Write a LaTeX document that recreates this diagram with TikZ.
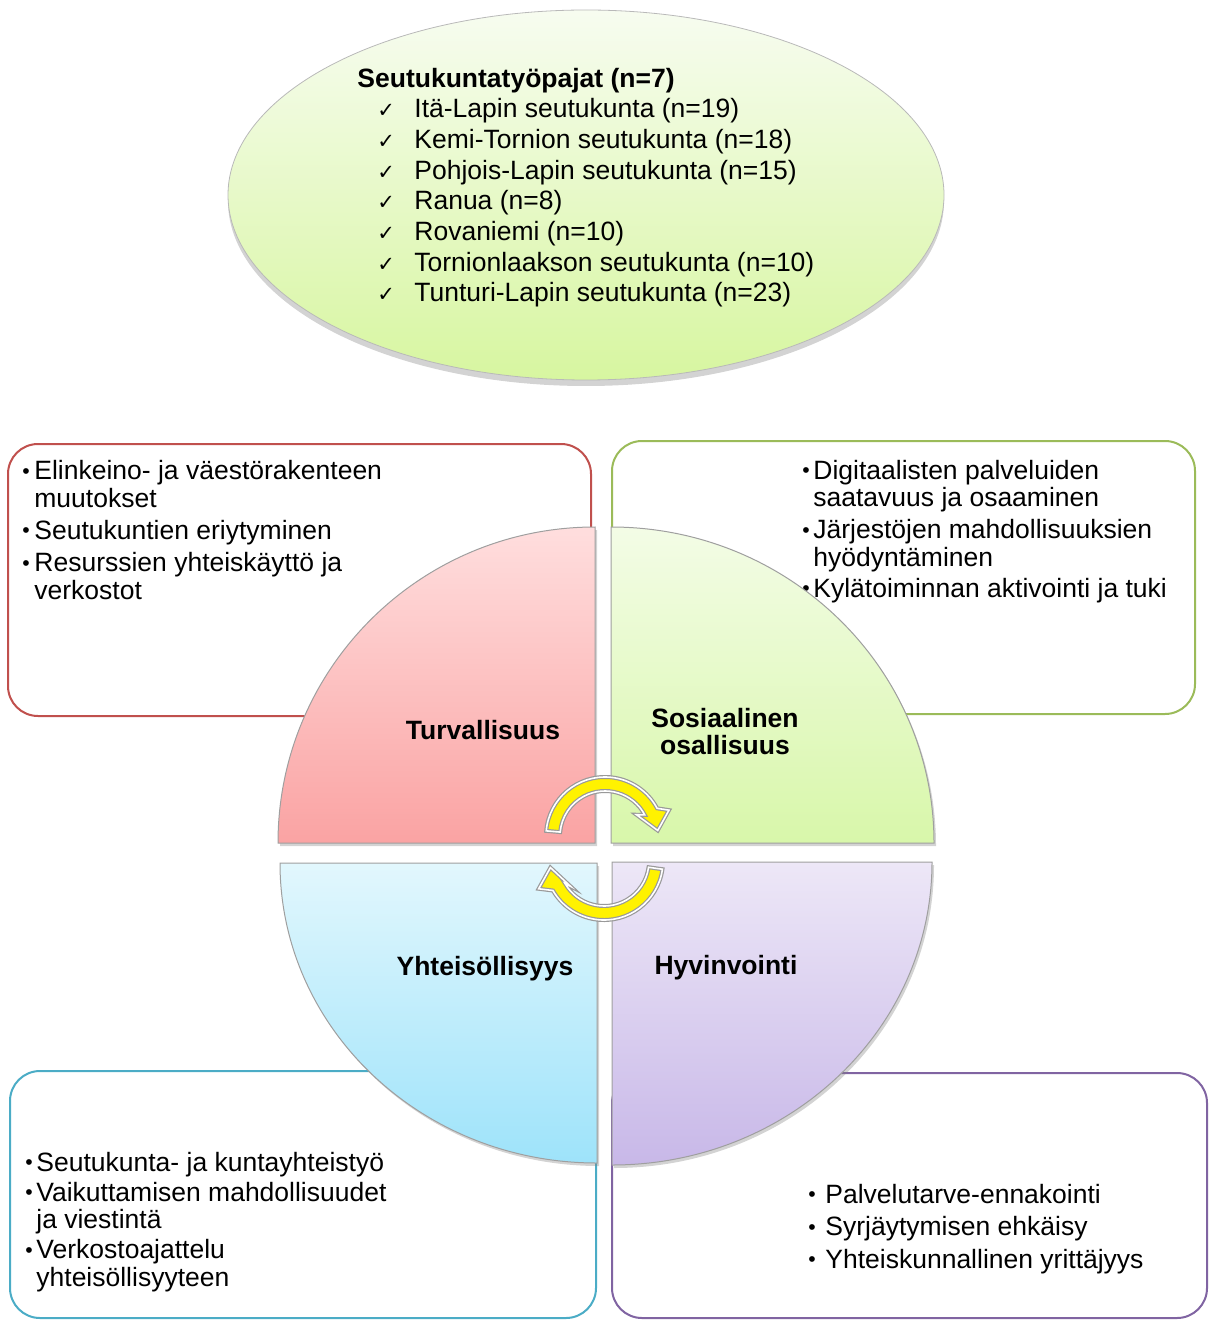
\documentclass[tikz,border=0pt]{standalone}
\usepackage{fontspec}
\setmainfont{Liberation Sans}
\newfontfamily\checkfont{DejaVu Sans}
\usetikzlibrary{shapes.geometric,shadows,calc}

\definecolor{redline}{RGB}{192,80,77}
\definecolor{greenline}{RGB}{155,187,89}
\definecolor{blueline}{RGB}{75,172,198}
\definecolor{purpleline}{RGB}{128,100,162}
\definecolor{ellipsetop}{RGB}{247,252,240}
\definecolor{ellipsebot}{RGB}{215,246,160}

\newcommand\bul[1]{\makebox[#1][l]{\raisebox{0.6pt}{\scalebox{0.8}{•}}}}
\newcommand\ck{\makebox[18.5pt][l]{\checkfont\fontsize{10.5}{10.5}\selectfont ✓}}

\begin{document}
\begin{tikzpicture}[x=0.5pt,y=-0.5pt,
   txt/.style={font=\fontsize{13.25}{13.75}\selectfont,inner sep=0pt,align=left,anchor=base west},
   lbl/.style={font=\bfseries\fontsize{13.25}{13.5}\selectfont,inner sep=0pt,align=center},
   themebox/.style={line width=1pt,rounded corners=15pt},
   quad/.style={draw=gray!75,line width=0.5pt,
     drop shadow={shadow xshift=1pt,shadow yshift=-1.5pt,opacity=0.35}},
   turnarrow/.style={fill=yellow,draw=gray!80,double=white,double distance=0.8pt,line width=0.6pt}]
  \useasboundingbox (0,0) rectangle (1209,1320);

  % workshops
  \node[ellipse,minimum width=358pt,minimum height=185pt,draw=gray!55,line width=0.4pt,
    top color=ellipsetop,bottom color=ellipsebot,
    drop shadow={shadow xshift=0pt,shadow yshift=-3pt,opacity=0.35}] (wsell) at (586,195) {};
  \node[txt,font=\fontsize{13.25}{15.35}\selectfont] (wstxt) at (357,302)
    {\textbf{Seutukuntatyöpajat (n=7)}\\
     \hspace*{10pt}\ck Itä-Lapin seutukunta (n=19)\\
     \hspace*{10pt}\ck Kemi-Tornion seutukunta (n=18)\\
     \hspace*{10pt}\ck Pohjois-Lapin seutukunta (n=15)\\
     \hspace*{10pt}\ck Ranua (n=8)\\
     \hspace*{10pt}\ck Rovaniemi (n=10)\\
     \hspace*{10pt}\ck Tornionlaakson seutukunta (n=10)\\
     \hspace*{10pt}\ck Tunturi-Lapin seutukunta (n=23)};

  % theme boxes
  \draw[themebox,draw=redline] (8,444) rectangle (591,716);
  \draw[themebox,draw=greenline] (612,441) rectangle (1195,714);
  \draw[themebox,draw=blueline] (10,1071) rectangle (596,1318);
  \draw[themebox,draw=purpleline] (612,1073) rectangle (1207,1318);

  \node[txt] (redtxt) at (22,599)
    {\bul{6pt}Elinkeino- ja väestörakenteen\\ \hspace*{6pt}muutokset\\[2.25pt]
     \bul{6pt}Seutukuntien eriytyminen\\[2.5pt]
     \bul{6pt}Resurssien yhteiskäyttö ja\\ \hspace*{6pt}verkostot};
  \node[txt] (greentxt) at (802,597)
    {\bul{5.5pt}Digitaalisten palveluiden\\ \hspace*{5.5pt}saatavuus ja osaaminen\\[2.25pt]
     \bul{5.5pt}Järjestöjen mahdollisuuksien\\ \hspace*{5.5pt}hyödyntäminen\\[1.75pt]
     \bul{5.5pt}Kylätoiminnan aktivointi ja tuki};
  \node[txt] (bluetxt) at (25,1286)
    {\bul{5.5pt}Seutukunta- ja kuntayhteistyö\\[1.25pt]
     \bul{5.5pt}Vaikuttamisen mahdollisuudet\\ \hspace*{5.5pt}ja viestintä\\[1.25pt]
     \bul{5.5pt}Verkostoajattelu\\ \hspace*{5.5pt}yhteisöllisyyteen};
  \node[txt,font=\fontsize{13.25}{16.25}\selectfont] (purpletxt) at (808,1268)
    {\bul{8.5pt}Palvelutarve-ennakointi\\
     \bul{8.5pt}Syrjäytymisen ehkäisy\\
     \bul{8.5pt}Yhteiskunnallinen yrittäjyys};

  % quarters
  \path[quad,top color={rgb,255:red,255;green,222;blue,222},bottom color={rgb,255:red,250;green,163;blue,163}]
    (595,843) -- (278,843) arc[start angle=180,end angle=270,x radius=317,y radius=316] -- cycle;
  \path[quad,top color={rgb,255:red,243;green,252;blue,230},bottom color={rgb,255:red,216;green,247;blue,170}]
    (611,843) -- (611,527) arc[start angle=270,end angle=360,x radius=323,y radius=316] -- cycle;
  \path[quad,top color={rgb,255:red,226;green,247;blue,253},bottom color={rgb,255:red,158;green,227;blue,250}]
    (597,863) -- (597,1163) arc[start angle=90,end angle=180,x radius=317,y radius=300] -- cycle;
  \path[quad,top color={rgb,255:red,237;green,231;blue,247},bottom color={rgb,255:red,200;green,184;blue,232}]
    (612,862) -- (932,862) arc[start angle=0,end angle=90,x radius=320,y radius=303] -- cycle;

  \node[lbl] (turva) at (483,730) {Turvallisuus};
  \node[lbl] (sosos) at (725,732) {Sosiaalinen\\osallisuus};
  \node[lbl] (yhteis) at (485,969) {Yhteisöllisyys};
  \node[lbl] (hyvin) at (726,968) {Hyvinvointi};

  % turning arrows
  \coordinate (cwa) at (605,836);
  \coordinate (ccw) at (604,861);
  \path[turnarrow] ($(cwa)+(185:59)$) arc[start angle=185,end angle=332,radius=59]
    -- ($(cwa)+(338:69)$) -- ($(cwa)+(354:53)$) -- ($(cwa)+(326:38)$)
    -- ($(cwa)+(332:45)$) arc[start angle=332,end angle=185,radius=45] -- cycle;
  \path[turnarrow] ($(ccw)+(8:59)$) arc[start angle=8,end angle=150,radius=59]
    -- ($(ccw)+(157:71)$) -- ($(ccw)+(173:54)$) -- ($(ccw)+(143:42)$)
    -- ($(ccw)+(150:45)$) arc[start angle=150,end angle=8,radius=45] -- cycle;
\end{tikzpicture}
\end{document}
